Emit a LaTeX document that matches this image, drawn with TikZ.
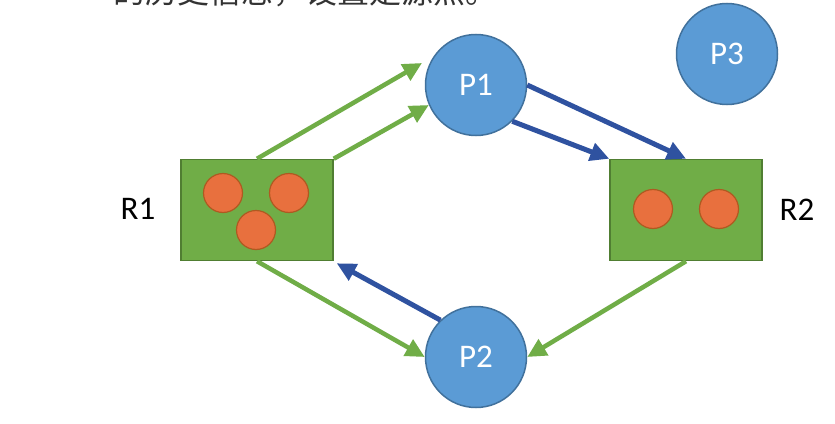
\documentclass[tikz,border=0pt]{standalone}
\usepackage{fontspec}
\setmainfont{Carlito}
\newfontfamily\cjk{Noto Sans CJK SC}
\usetikzlibrary{arrows.meta}
\definecolor{resgreen}{HTML}{70AD47}
\definecolor{resedge}{HTML}{507E32}
\definecolor{unitfill}{HTML}{E8703E}
\definecolor{unitedge}{HTML}{AE5A21}
\definecolor{procfill}{HTML}{5B9BD5}
\definecolor{procedge}{HTML}{41719C}
\definecolor{holdblue}{HTML}{2F52A0}
\definecolor{reqgreen}{HTML}{70AD47}
\tikzset{
  bigfont/.style={font=\fontsize{33}{40}\selectfont},
  proc/.style={circle, minimum size=101pt, inner sep=0pt, fill=procfill,
    draw=procedge, line width=1.5pt, text=white, bigfont},
  res/.style={rectangle, minimum width=152pt, minimum height=101pt, inner sep=0pt,
    fill=resgreen, draw=resedge, line width=1.5pt},
  unit/.style={circle, minimum size=39pt, inner sep=0pt, fill=unitfill,
    draw=unitedge, line width=1.2pt},
  reqarrow/.style={draw=reqgreen, line width=4.5pt,
    -{Triangle[length=19pt,width=18pt]}},
  holdarrow/.style={draw=holdblue, line width=5pt,
    -{Triangle[length=19pt,width=18pt]}},
  rlabel/.style={bigfont, text=black}
}
\begin{document}
\begin{tikzpicture}[x=1pt,y=-1pt]
\useasboundingbox (0,0) rectangle (835,423);
\fill[white] (0,0) rectangle (835,423);

% caption line, only its lower part falls inside the page
\node[anchor=base west, inner sep=0pt, text=black!80,
  font=\cjk\fontsize{32}{36}\selectfont] (cap) at (113,3) {的历史信息，设置是源点。};

% resources
\node[res] (R1) at (257,210) {};
\node[res] (R2) at (686,210) {};
\node[unit] (r1a) at (223,193) {};
\node[unit] (r1b) at (289,193) {};
\node[unit] (r1c) at (256,230) {};
\node[unit] (r2a) at (653,209) {};
\node[unit] (r2b) at (719,209) {};
\node[rlabel] (l1) at (138,209) {R1};
\node[rlabel] (l2) at (797,210) {R2};

% processes
\node[proc] (P1) at (476,85) {P1};
\node[proc] (P2) at (476,357) {P2};
\node[proc] (P3) at (727,54) {P3};

% request edges
\coordinate (reqtip) at (422,63);
\draw[reqarrow] (R1.north) -- (reqtip);
\draw[reqarrow] (R1.north east) -- (P1.203);
\draw[reqarrow] (R1.south) -- (P2.west);
\draw[reqarrow] (R2.south) -- (P2.east);

% assignment edges
\draw[holdarrow] (P1.east) -- (R2.north);
\draw[holdarrow] (P1.-45) -- (R2.north west);
\draw[holdarrow] (P2.134) -- ([shift={(3,2)}]R1.south east);
\end{tikzpicture}
\end{document}
